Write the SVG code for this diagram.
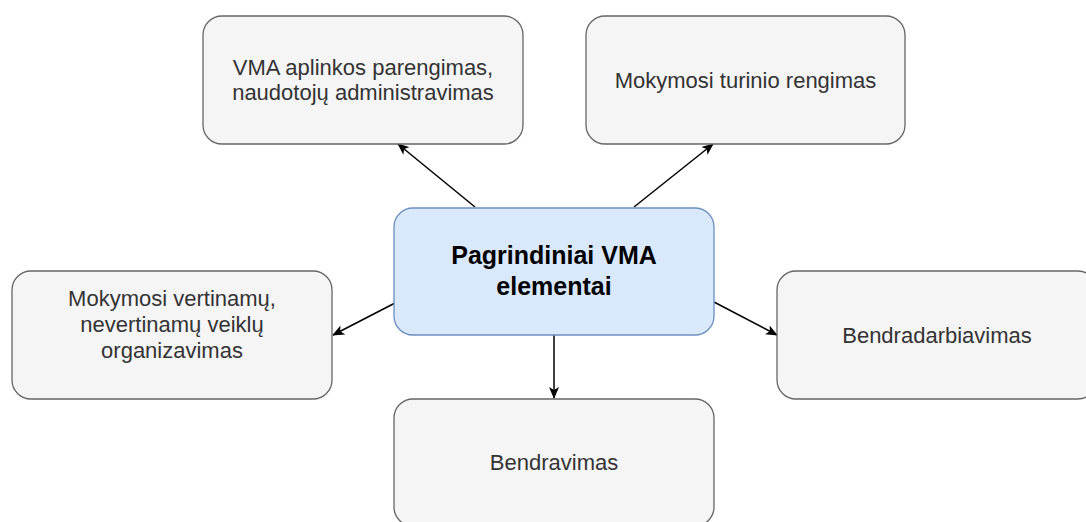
<svg xmlns="http://www.w3.org/2000/svg" width="1086" height="522" viewBox="0 0 1086 522">
<style>
.box{fill:#f5f5f5;stroke:#666666;stroke-width:1.3}
.main{fill:#dae8fc;stroke:#6c8ebf;stroke-width:1.3}
.t{font-family:"Liberation Sans",Arial,sans-serif;font-size:22px;fill:#333333;text-anchor:middle}
.tb{font-family:"Liberation Sans",Arial,sans-serif;font-size:25px;font-weight:bold;fill:#000000;text-anchor:middle}
.edge{stroke:#000000;stroke-width:1.5;fill:none;marker-end:url(#arr)}
</style>
<defs>
<marker id="arr" viewBox="0 0 12 10" refX="11" refY="5" markerWidth="12" markerHeight="10" markerUnits="userSpaceOnUse" orient="auto">
<path d="M0,0 L12,5 L0,10 L3,5 Z" fill="#000000"/>
</marker>
</defs>
<rect width="1086" height="522" fill="#ffffff"/>
<g id="connectors">
<line class="edge" x1="475" y1="207" x2="398" y2="144"/>
<line class="edge" x1="634" y1="207" x2="713" y2="144"/>
<line class="edge" x1="395" y1="303" x2="333" y2="335"/>
<line class="edge" x1="714" y1="302" x2="777" y2="335"/>
<line class="edge" x1="554" y1="335" x2="554" y2="398"/>
</g>
<g id="node-setup">
<rect class="box" x="203" y="16" width="320" height="128" rx="19" ry="19"/>
<text class="t" x="363" y="75">VMA aplinkos parengimas,</text>
<text class="t" x="363" y="100">naudotojų administravimas</text>
</g>
<g id="node-content">
<rect class="box" x="586" y="16" width="319" height="128" rx="19" ry="19"/>
<text class="t" x="745.5" y="88">Mokymosi turinio rengimas</text>
</g>
<g id="node-main">
<rect class="main" x="394" y="208" width="320" height="127" rx="19" ry="19"/>
<text class="tb" x="554" y="264">Pagrindiniai VMA</text>
<text class="tb" x="554" y="295">elementai</text>
</g>
<g id="node-activities">
<rect class="box" x="12" y="271" width="320" height="128" rx="19" ry="19"/>
<text class="t" x="172" y="306">Mokymosi vertinamų,</text>
<text class="t" x="172" y="332">nevertinamų veiklų</text>
<text class="t" x="172" y="358">organizavimas</text>
</g>
<g id="node-collab">
<rect class="box" x="777" y="271" width="320" height="128" rx="19" ry="19"/>
<text class="t" x="937" y="343">Bendradarbiavimas</text>
</g>
<g id="node-comm">
<rect class="box" x="394" y="399" width="320" height="127" rx="19" ry="19"/>
<text class="t" x="554" y="470">Bendravimas</text>
</g>
</svg>
